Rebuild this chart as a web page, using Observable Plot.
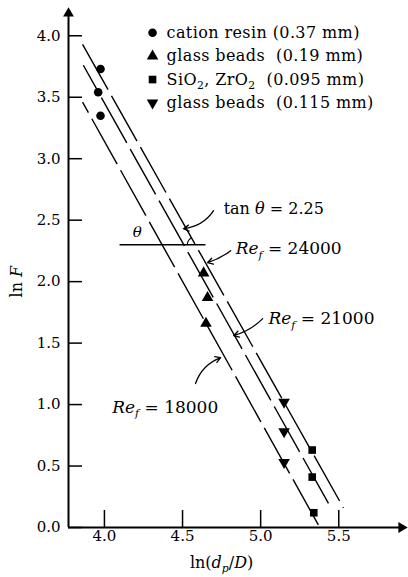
<!DOCTYPE html>
<html><head><meta charset="utf-8">
<script src="https://cdn.jsdelivr.net/npm/d3@7"></script>
<script src="https://cdn.jsdelivr.net/npm/@observablehq/plot@0.6"></script>
<style>
body{margin:0;background:#fff}
svg text{white-space:pre}
</style>
</head><body><div id="chart"></div>
<script>
// ---- data ----
const xTicks = [4.0, 4.5, 5.0, 5.5];
const yTicks = [0.0, 0.5, 1.0, 1.5, 2.0, 2.5, 3.0, 3.5, 4.0];
const seriesNames = ["cation resin (0.37 mm)", "glass beads  (0.19 mm)", "SiO2, ZrO2  (0.095 mm)", "glass beads  (0.115 mm)"];
const seriesSymbols = ["circle", "triangle", "square", "triangle"];
const seriesRotate = [0, 0, 0, 180];
const circleX = [3.975, 3.96, 3.975];
const circleY = [3.73, 3.54, 3.35];
const triUpX = [4.635, 4.66, 4.65];
const triUpY = [2.07, 1.87, 1.66];
const squareX = [5.33, 5.33, 5.34];
const squareY = [0.63, 0.41, 0.12];
const triDownX = [5.15, 5.15, 5.15];
const triDownY = [1.02, 0.78, 0.53];
const reLabels = ["Re_f = 24000", "Re_f = 21000", "Re_f = 18000"];
const lineX1 = [3.86, 3.865, 3.86];
const lineY1 = [3.93, 3.76, 3.46];
const lineX2 = [5.53, 5.45, 5.37];
const lineY2 = [0.16, 0.16, 0.02];
const tanLabel = "tan θ = 2.25";

// ---- layout ----
const W = 408, H = 577, ML = 68, MR = 1, MT = 7, MB = 50;
const X0 = 3.77, X1 = 5.94, Y0 = 0, Y1 = 4.23;
const kx = (W - ML - MR) / (X1 - X0); // px per x unit
const ky = (H - MT - MB) / (Y1 - Y0); // px per y unit

const points = [
  ...circleX.map((x, i) => ({x, y: circleY[i], s: 0})),
  ...triUpX.map((x, i) => ({x, y: triUpY[i], s: 1})),
  ...squareX.map((x, i) => ({x, y: squareY[i], s: 2})),
  ...triDownX.map((x, i) => ({x, y: triDownY[i], s: 3}))
];
const fitLines = reLabels.map((l, i) => ({label: l, x1: lineX1[i], y1: lineY1[i], x2: lineX2[i], y2: lineY2[i]}));
const dashOffsets = [0, 22, 40];

// legend
const legend = seriesNames.map((n, i) => ({name: n, s: i, x: 4.308, y: 4.024 - i * 0.19}));

// annotations
const reText = [
  {label: reLabels[0], x: 4.84, y: 2.268},
  {label: reLabels[1], x: 5.05, y: 1.699},
  {label: reLabels[2], x: 4.05, y: 0.976}
];
const arrows = [
  {x1: 4.699, y1: 2.577, x2: 4.506, y2: 2.431, bend: 25},
  {x1: 4.808, y1: 2.252, x2: 4.660, y2: 2.154, bend: 10},
  {x1: 5.013, y1: 1.699, x2: 4.827, y2: 1.561, bend: 15},
  {x1: 4.583, y1: 1.171, x2: 4.744, y2: 1.382, bend: 25}
];
const thetaY = 2.30;
const L = fitLines[0];
const xc = L.x1 + (L.y1 - thetaY) * (L.x2 - L.x1) / (L.y1 - L.y2);
const lineAng = Math.atan2((L.y1 - L.y2) * ky, (L.x2 - L.x1) * kx);
const arc = d3.range(0, 21).map(j => {
  const a = Math.PI - lineAng + lineAng * j / 20;
  return {x: xc + 8 * Math.cos(a) / kx, y: thetaY + 8 * Math.sin(a) / ky};
});

const sym = s => seriesSymbols[s];
const chart = Plot.plot({
  width: W, height: H,
  marginLeft: ML, marginRight: MR, marginTop: MT, marginBottom: MB,
  x: {domain: [X0, X1]},
  y: {domain: [Y0, Y1]},
  style: {fontFamily: "DejaVu Serif", fontSize: "15px", color: "black", background: "white"},
  marks: [
    Plot.axisY(yTicks, {tickSize: 0, tickPadding: 8, tickFormat: d3.format(".1f"), label: null, fontSize: 15}),
    Plot.axisX(xTicks, {tickSize: 0, tickPadding: 3, tickFormat: d3.format(".1f"), label: null, fontSize: 15}),
    // axes lines
    Plot.ruleX([X0], {y1: Y0, y2: Y1 - 0.05, strokeWidth: 2}),
    Plot.ruleY([Y0], {x1: X0, x2: X1 - 0.05, strokeWidth: 2}),
    Plot.dot([{x: X0, y: Y1}], {x: "x", y: "y", symbol: "triangle", r: 4, fill: "black", dy: 6}),
    Plot.dot([{x: X1, y: Y0}], {x: "x", y: "y", symbol: "triangle", r: 4, fill: "black", rotate: 90, dx: -6}),
    // ticks inward
    Plot.ruleY(yTicks, {x1: X0, x2: X0 + 14 / kx, strokeWidth: 1.5}),
    Plot.ruleX(xTicks, {y1: Y0, y2: Y0 + 17 / ky, strokeWidth: 1.5}),
    // fit lines (dashed)
    ...fitLines.map((l, i) => Plot.link([l], {x1: "x1", y1: "y1", x2: "x2", y2: "y2", stroke: "black", strokeWidth: 1.4,
      strokeDasharray: "52,7", strokeDashoffset: dashOffsets[i]})),
    // theta construction
    Plot.ruleY([thetaY], {x1: 4.10, x2: 4.65, strokeWidth: 1.3}),
    Plot.line(arc, {x: "x", y: "y", strokeWidth: 1.1}),
    Plot.text([{t: "θ"}], {x: () => 4.21, y: () => 2.40, text: "t", fontSize: 15}),
    // data points
    Plot.dot(points, {x: "x", y: "y", symbol: d => sym(d.s), rotate: d => seriesRotate[d.s], r: 4.3, fill: "black", stroke: "none"}),
    // legend
    Plot.dot(legend, {x: "x", y: "y", symbol: d => sym(d.s), rotate: d => seriesRotate[d.s], r: 4.3, fill: "black", stroke: "none"}),
    Plot.text(legend, {x: "x", y: "y", text: "name", textAnchor: "start", dx: 14, fontSize: 16}),
    // annotations
    Plot.text(reText, {x: "x", y: "y", text: "label", textAnchor: "start", fontSize: 17}),
    Plot.text([{t: tanLabel}], {x: () => 4.763, y: () => 2.593, text: "t", textAnchor: "start", fontSize: 16}),
    ...arrows.map(a => Plot.arrow([a], {x1: "x1", y1: "y1", x2: "x2", y2: "y2", bend: a.bend, headLength: 7, strokeWidth: 1.3})),
    // axis labels
    Plot.text([{t: "ln F"}], {x: () => X0, y: () => 2.0, text: "t", rotate: -90, dx: -52, fontSize: 16}),
    Plot.text([{t: "ln(dp/D)"}], {x: () => 4.75, y: () => Y0, text: "t", dy: 35, fontSize: 16})
  ]
});

// rich text formatting (italics / subscripts)
const rich = {
  "Re_f = 24000": [["Re", "i"], ["f", "isub"], [" = 24000", ""]],
  "Re_f = 21000": [["Re", "i"], ["f", "isub"], [" = 21000", ""]],
  "Re_f = 18000": [["Re", "i"], ["f", "isub"], [" = 18000", ""]],
  "tan θ = 2.25": [["tan ", ""], ["θ", "i"], [" = 2.25", ""]],
  "θ": [["θ", "i"]],
  "ln F": [["ln ", ""], ["F", "i"]],
  "ln(dp/D)": [["ln(", ""], ["d", "i"], ["p", "isub"], ["/", ""], ["D", "i"], [")", ""]],
  "SiO2, ZrO2  (0.095 mm)": [["SiO", ""], ["2", "sub"], [", ZrO", ""], ["2", "sub"], ["  (0.095 mm)", ""]]
};
d3.select(chart).selectAll("text").each(function () {
  const t = this.textContent;
  if (!(t in rich)) return;
  const fs = parseFloat(this.getAttribute("font-size") || getComputedStyle(this).fontSize) || 15;
  const el = d3.select(this);
  el.text("");
  let shifted = false;
  for (const [s, f] of rich[t]) {
    const ts = el.append("tspan").text(s);
    if (f.includes("i")) ts.attr("font-style", "italic");
    if (f.includes("sub")) {
      ts.attr("font-size", fs * 0.72);
      if (!shifted) { ts.attr("dy", fs * 0.3); shifted = true; }
    } else if (shifted) { ts.attr("dy", -fs * 0.3); shifted = false; }
  }
});
// legend letter spacing to match the wider original typeface
d3.select(chart).selectAll("text").filter(function () {
  return seriesNames.includes(this.textContent);
}).attr("letter-spacing", "0.4px");
document.getElementById("chart").appendChild(chart);
</script>
</body></html>
